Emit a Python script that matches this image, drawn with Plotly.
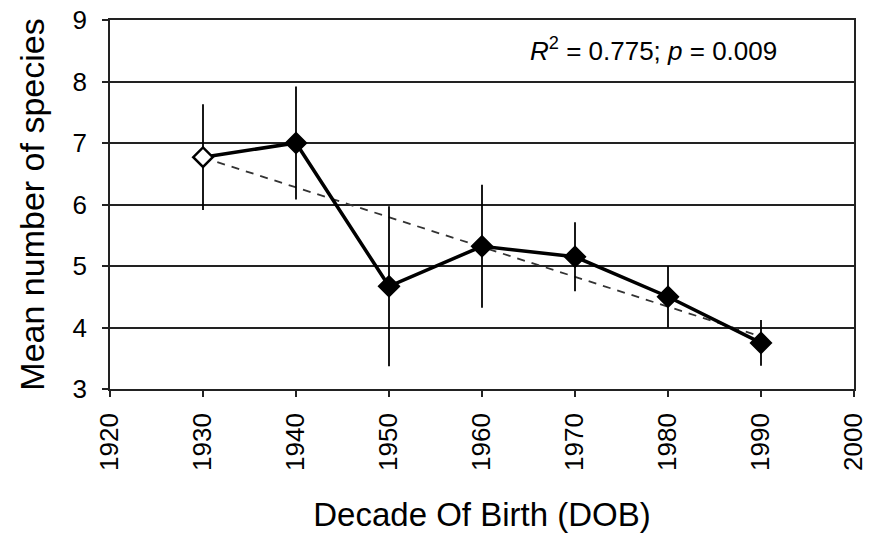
import numpy as np
import plotly.graph_objects as go

decades = [1930, 1940, 1950, 1960, 1970, 1980, 1990]
mean_species = [6.77, 7.0, 4.67, 5.32, 5.15, 4.5, 3.75]
err = [0.86, 0.92, 1.3, 1.0, 0.56, 0.5, 0.37]
x_ticks = [1920, 1930, 1940, 1950, 1960, 1970, 1980, 1990, 2000]
y_ticks = [3, 4, 5, 6, 7, 8, 9]
annotation_text = "<i>R</i><sup>2</sup> = 0.775; <i>p</i> = 0.009"

slope, intercept = np.polyfit(decades, mean_species, 1)
trend_x = [decades[0], decades[-1]]
trend_y = [slope * v + intercept for v in trend_x]

font = "Liberation Sans, Arial, sans-serif"

fig = go.Figure()
fig.add_trace(go.Scatter(
    x=trend_x, y=trend_y, mode="lines",
    line=dict(color="#333333", width=1.8, dash="8px,7px"),
    showlegend=False, hoverinfo="skip"))
fig.add_trace(go.Scatter(
    x=decades, y=mean_species, mode="lines+markers",
    line=dict(color="black", width=3.5),
    marker=dict(symbol="diamond", size=15,
                color=["white"] + ["black"] * (len(decades) - 1),
                line=dict(color="black", width=2.5)),
    error_y=dict(type="data", array=err, visible=True, color="black",
                 thickness=1.8, width=0),
    showlegend=False))

fig.update_layout(
    width=871, height=533,
    margin=dict(l=110, r=17, t=20, b=144),
    paper_bgcolor="white", plot_bgcolor="white",
    font=dict(family=font, color="black", size=26),
    xaxis=dict(range=[1920, 2000], tickvals=x_ticks, tickangle=-90,
               showgrid=False, zeroline=False, automargin=False,
               ticklabeloverflow="allow",
               showline=True, linecolor="#222222", linewidth=1.5, mirror=True,
               ticks="outside", ticklen=6, tickcolor="#222222", tickwidth=1.5,
               tickfont=dict(size=26), ticklabelstandoff=6,
               title=dict(text="Decade Of Birth (DOB)", font=dict(size=33), standoff=33)),
    yaxis=dict(range=[3, 9], tickvals=y_ticks,
               showgrid=True, gridcolor="#222222", gridwidth=1.5, zeroline=False,
               automargin=False, ticklabeloverflow="allow",
               showline=True, linecolor="#222222", linewidth=1.5, mirror=True,
               ticks="outside", ticklen=6, tickcolor="#222222", tickwidth=1.5,
               tickfont=dict(size=26), ticklabelstandoff=10,
               title=dict(text="Mean number of species", font=dict(size=34), standoff=18)),
    annotations=[dict(x=0.73, y=0.92, xref="paper", yref="paper",
                      text=annotation_text, showarrow=False,
                      xanchor="center", yanchor="middle",
                      font=dict(size=26, family=font))],
)

fig.write_html("out.html")
